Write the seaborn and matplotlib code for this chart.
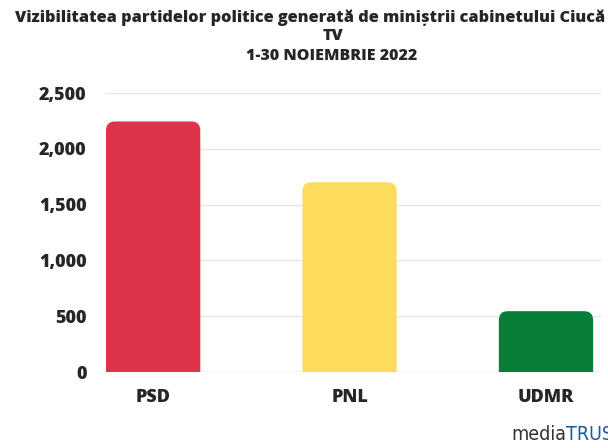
import matplotlib
matplotlib.use('Agg')
import matplotlib.pyplot as plt
import seaborn as sns
import pandas as pd
from matplotlib.patches import FancyBboxPatch

partide = ['PSD', 'PNL', 'UDMR']
vizibilitate = [2245, 1700, 545]
culori = ['#DD3449', '#FEDC5B', '#077F38']
y_ticks = [0, 500, 1000, 1500, 2000, 2500]

df = pd.DataFrame({'Partid': partide, 'Vizibilitate': vizibilitate})

sns.set_style('white')
plt.rcParams['font.family'] = ['Open Sans', 'DejaVu Sans']

fig = plt.figure(figsize=(6.08, 4.48), dpi=100)
ax = fig.add_axes([106 / 608, 76 / 448, 495 / 608, 279 / 448])

sns.barplot(data=df, x='Partid', y='Vizibilitate', hue='Partid',
            palette=culori, saturation=1, width=0.48, legend=False, ax=ax, zorder=2)

# bare cu colturi rotunjite
for p in list(ax.patches):
    x0, w, h = p.get_x(), p.get_width(), p.get_height()
    fc = p.get_facecolor()
    p.remove()
    bar = FancyBboxPatch((x0, -150), w, h + 150,
                         boxstyle='round,pad=0,rounding_size=0.045',
                         mutation_aspect=1800, fc=fc, ec='none', zorder=2)
    ax.add_patch(bar)

ax.set_xlim(-0.24, 2.28)
ax.set_ylim(0, 2500)
ax.set_yticks(y_ticks)
ax.set_yticklabels([f'{v:,}' for v in y_ticks])
ax.grid(axis='y', color='#e6e6e6', linewidth=1, zorder=0)
ax.set_axisbelow(True)
sns.despine(ax=ax, left=True, bottom=True, top=True, right=True)
ax.axhline(0, color='#dddddd', linewidth=1, zorder=1)
ax.tick_params(axis='both', length=0, labelsize=13, pad=14)
ax.tick_params(axis='x', pad=12)
for lbl in ax.get_xticklabels() + ax.get_yticklabels():
    lbl.set_fontweight('heavy')
ax.set_xlabel('')
ax.set_ylabel('')

fig.text(310 / 608, 1 - 18 / 448, 'Vizibilitatea partidelor politice generată de miniștrii cabinetului Ciucă',
         ha='center', va='center', fontsize=11.7, fontweight='heavy')
fig.text(333 / 608, 1 - 36 / 448, 'TV', ha='center', va='center', fontsize=11.7, fontweight='heavy')
fig.text(332 / 608, 1 - 56 / 448, '1-30 NOIEMBRIE 2022', ha='center', va='center',
         fontsize=11.5, fontweight='heavy')

t1 = fig.text(511 / 608, 1 - 444 / 448, 'media', ha='left', va='bottom', fontsize=14,
              color='#333333', family='DejaVu Sans', fontstretch='condensed')
ax.annotate('TRUST', xy=(1, 0), xycoords=t1, ha='left', va='bottom', fontsize=14,
            color='#1f5a9e', family='DejaVu Sans', fontstretch='condensed',
            annotation_clip=False)

fig.savefig('out.png', dpi=100)
